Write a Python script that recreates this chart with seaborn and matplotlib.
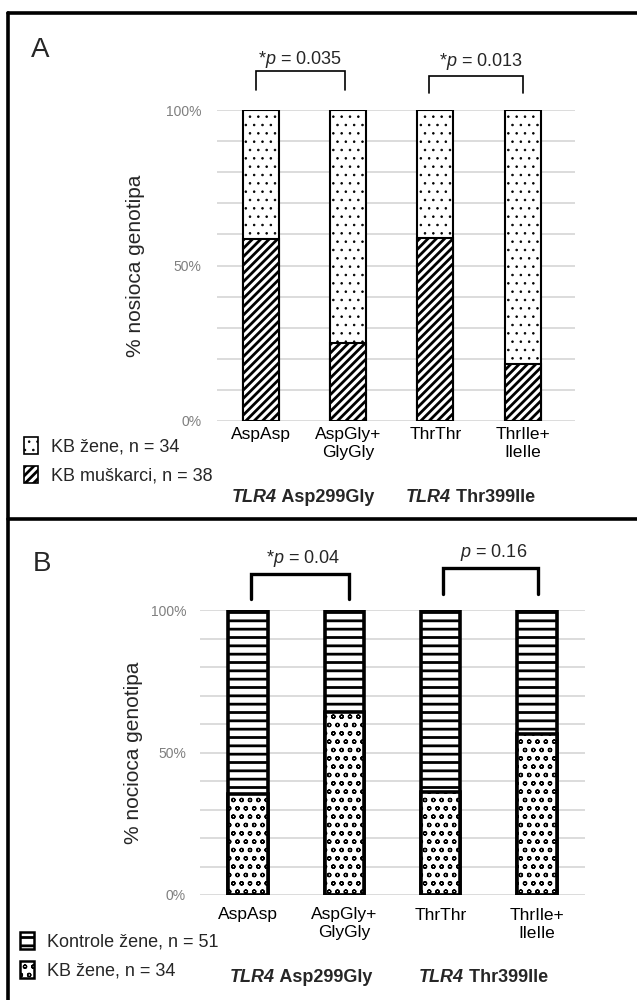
import matplotlib
matplotlib.use("Agg")
import matplotlib.pyplot as plt
import seaborn as sns
import pandas as pd
from matplotlib.patches import Patch
from matplotlib.lines import Line2D
from matplotlib.ticker import FixedLocator, MultipleLocator

# kategorije (genotipovi)
genotipovi = ["AspAsp", "AspGly+\nGlyGly", "ThrThr", "ThrIle+\nIleIle"]
geni = ["Asp299Gly", "Thr399Ile"]

# A: KB zene vs KB muskarci, % nosioca
a_zene = [41.4, 75.0, 41.1, 81.8]
a_muskarci = [58.6, 25.0, 58.9, 18.2]

# B: kontrole zene vs KB zene, % nosioca
b_kontrole = [64.6, 35.9, 63.8, 43.6]
b_kb_zene = [35.4, 64.1, 36.2, 56.4]

p_a = ["*$p$ = 0.035", "*$p$ = 0.013"]
p_b = ["*$p$ = 0.04", "$p$ = 0.16"]

sns.set_theme(style="white")
plt.rcParams["font.family"] = ["Liberation Sans", "DejaVu Sans"]
plt.rcParams["mathtext.fontset"] = "custom"
plt.rcParams["mathtext.it"] = "Liberation Sans:italic"
plt.rcParams["mathtext.rm"] = "Liberation Sans"

W, H = 637, 1000

# hatch line widths per pattern
HATCH_LW = {"..": 0.6, "////": 2.0, "--": 2.0, "oo": 0.9}


def px(x, y, w=0, h=0):
    # pixel box (top-left origin) -> figure fraction
    return [x / W, 1 - (y + h) / H, w / W, h / H]


def set_hatch(p, hatch):
    p.set_hatch(hatch)
    if hasattr(p, "set_hatch_linewidth"):
        p.set_hatch_linewidth(HATCH_LW[hatch])


fig = plt.figure(figsize=(W / 100, H / 100), dpi=100)
ax_a = fig.add_axes(px(217, 110, 358, 311))
ax_b = fig.add_axes(px(200, 610, 385, 285))


def stacked(ax, donji, gornji, h_donji, h_gornji, lw):
    df = pd.DataFrame({
        "genotip": genotipovi,
        "donji": donji,
        "ukupno": [d + g for d, g in zip(donji, gornji)],
    })
    sns.barplot(data=df, x="genotip", y="ukupno", color="white", saturation=1,
                edgecolor="black", linewidth=lw, width=0.41, errorbar=None, ax=ax)
    for p in ax.containers[-1]:
        set_hatch(p, h_gornji)
    sns.barplot(data=df, x="genotip", y="donji", color="white", saturation=1,
                edgecolor="black", linewidth=lw, width=0.41, errorbar=None, ax=ax)
    for p in ax.containers[-1]:
        set_hatch(p, h_donji)


def style_axis(ax, xmax, ypad, xpad, label_x):
    ax.set_ylim(0, 100)
    ax.set_xlim(-0.5, xmax)
    ax.yaxis.set_major_locator(FixedLocator([0, 50, 100]))
    ax.yaxis.set_minor_locator(MultipleLocator(10))
    ax.set_yticklabels(["0%", "50%", "100%"])
    ax.yaxis.grid(True, which="both", color="#d9d9d9", lw=1.3)
    ax.set_axisbelow(True)
    sns.despine(ax=ax, left=True, bottom=True)
    ax.tick_params(axis="y", which="both", length=0, pad=ypad, labelsize=10, labelcolor="#7f7f7f")
    ax.tick_params(axis="x", length=0, pad=xpad, labelsize=12.5, labelcolor="black")
    ax.set_xlabel("")
    for t in ax.get_xticklabels():
        t.set_linespacing(1.25)
    ax.yaxis.set_label_coords(label_x, 0.52)


def bracket(ax, x0, x1, y_lo, y_top, lw):
    ax.plot([x0, x0, x1, x1], [y_lo, y_top, y_top, y_lo], color="black",
            lw=lw, clip_on=False, solid_joinstyle="miter")


def gene_labels(ax, xs, y):
    for x, g in zip(xs, geni):
        t = fig.text(x / W, 1 - y / H, "TLR4", fontsize=13, fontweight="bold",
                     fontstyle="italic", va="center", ha="left")
        ax.annotate(" " + g, xy=(1, 0.5), xycoords=t, va="center", ha="left",
                    fontsize=13, fontweight="bold", annotation_clip=False)


# ---- panel A ----
stacked(ax_a, a_muskarci, a_zene, "////", "..", 1.5)
style_axis(ax_a, 3.6, 11, 4, -0.2)
ax_a.set_ylabel("% nosioca genotipa", fontsize=15)
bracket(ax_a, -0.05, 0.97, 106.4, 112.5, 1.2)
bracket(ax_a, 1.93, 3.0, 105.5, 110.9, 1.2)
ax_a.text(0.45, 116.3, p_a[0], ha="center", va="center", fontsize=13, clip_on=False)
ax_a.text(2.52, 115.5, p_a[1], ha="center", va="center", fontsize=13, clip_on=False)
gene_labels(ax_a, [232, 406], 497)

# ---- panel B ----
stacked(ax_b, b_kb_zene, b_kontrole, "oo", "--", 2.6)
style_axis(ax_b, 3.5, 10, 9, -0.148)
ax_b.set_ylabel("% nocioca genotipa", fontsize=15)
bracket(ax_b, 0.03, 1.05, 103.9, 112.6, 2.4)
bracket(ax_b, 2.02, 3.01, 105.6, 114.7, 2.4)
ax_b.text(0.57, 118.2, p_b[0], ha="center", va="center", fontsize=13, clip_on=False)
ax_b.text(2.55, 120.3, p_b[1], ha="center", va="center", fontsize=13, clip_on=False)
gene_labels(ax_b, [230, 419], 977)

# panel letters
fig.text(31 / W, 1 - 57 / H, "A", fontsize=20, va="baseline")
fig.text(33 / W, 1 - 571 / H, "B", fontsize=20, va="baseline")

# legends
leg_kw = dict(loc="upper left", frameon=False, fontsize=13, borderpad=0,
              handlelength=0.75, handleheight=1.1, handletextpad=0.75,
              labelspacing=0.55, borderaxespad=0)
leg_a = fig.legend(handles=[
    Patch(facecolor="white", edgecolor="black", hatch="..", lw=1.2, label="KB žene, n = 34"),
    Patch(facecolor="white", edgecolor="black", hatch="////", lw=1.2, label="KB muškarci, n = 38"),
], bbox_to_anchor=(24 / W, 1 - 437 / H), **leg_kw)
leg_b = fig.legend(handles=[
    Patch(facecolor="white", edgecolor="black", hatch="--", lw=1.8, label="Kontrole žene, n = 51"),
    Patch(facecolor="white", edgecolor="black", hatch="oo", lw=1.8, label="KB žene, n = 34"),
], bbox_to_anchor=(20 / W, 1 - 932 / H), **leg_kw)
for leg in (leg_a, leg_b):
    for h in leg.legend_handles:
        set_hatch(h, h.get_hatch())

# panel frame
for xs, ys in [([8, W], [13, 13]), ([8, 8], [13, H]), ([8, W], [519, 519])]:
    fig.add_artist(Line2D([x / W for x in xs], [1 - y / H for y in ys], color="black", lw=2.6))

fig.savefig("out.png", dpi=100, facecolor="white")
